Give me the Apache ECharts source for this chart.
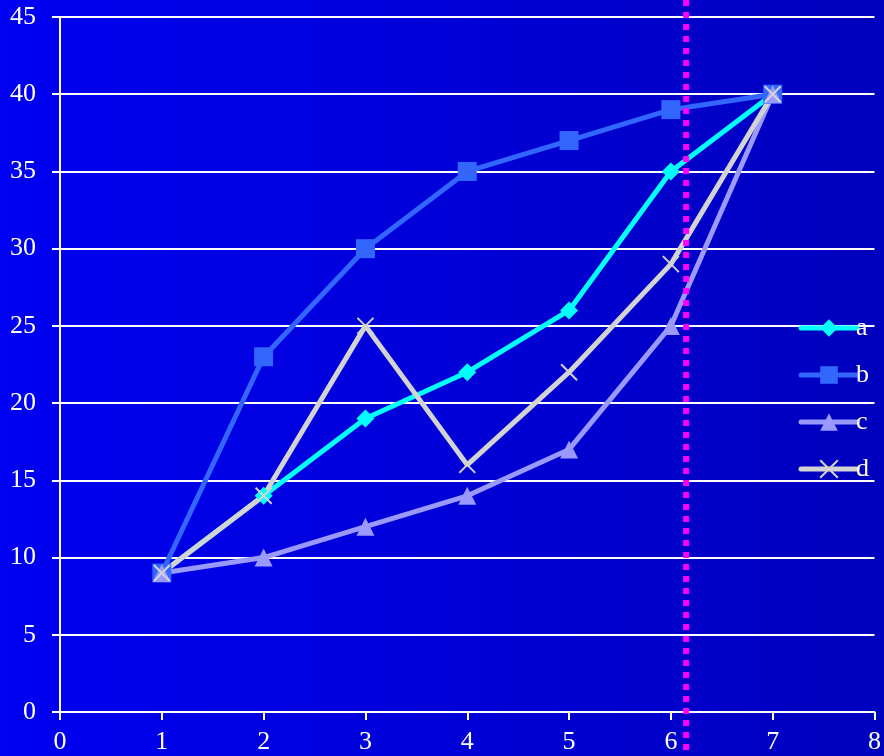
<!DOCTYPE html>
<html>
<head>
<meta charset="utf-8">
<script src="https://cdn.jsdelivr.net/npm/echarts@6/dist/echarts.min.js"></script>
<style>
  html, body { margin: 0; padding: 0; }
  #chart { width: 884px; height: 756px; }
</style>
</head>
<body>
<div id="chart"></div>
<script>
const xs = [1, 2, 3, 4, 5, 6, 7]
const seriesA = [9, 14, 19, 22, 26, 35, 40]
const seriesB = [9, 23, 30, 35, 37, 39, 40]
const seriesC = [9, 10, 12, 14, 17, 25, 40]
const seriesD = [9, 14, 25, 16, 22, 29, 40]
const names = ['a', 'b', 'c', 'd']
const markerX = 6.15

const crossPath = 'path://M0,0L10,10M10,0L0,10'
const fontFamily = '"Liberation Serif", "Times New Roman", serif'

const chart = echarts.init(document.getElementById('chart'))

const mk = (name, vals, color, symbol, size, extra) => ({
  name,
  type: 'line',
  data: xs.map((x, i) => [x, vals[i]]),
  symbol,
  symbolSize: size,
  lineStyle: { color, width: 5, cap: 'round' },
  itemStyle: Object.assign({ color, borderWidth: 0 }, extra || {}),
  emphasis: { disabled: true },
  z: 3
})

chart.setOption({
  animation: false,
  backgroundColor: new echarts.graphic.LinearGradient(0, 0, 1, 0, [
    { offset: 0, color: '#0000F2' },
    { offset: 1, color: '#0000BE' }
  ]),
  grid: { left: 60, right: 8, top: 17, bottom: 44 },
  textStyle: { fontFamily },
  legend: {
    right: 10,
    top: 310,
    orient: 'vertical',
    itemWidth: 56,
    itemHeight: 22,
    itemGap: 21,
    lineStyle: { width: 5, cap: 'round' },
    textStyle: { color: '#fff', fontSize: 26, lineHeight: 24, fontFamily, padding: [0, 0, 0, -6] },
    data: names
  },
  xAxis: {
    type: 'value',
    min: 0, max: 8, interval: 1,
    axisLine: { lineStyle: { color: '#fff', width: 2 } },
    axisTick: { show: true, length: 8, lineStyle: { color: '#fff', width: 2 } },
    axisLabel: { color: '#fff', fontSize: 26, fontFamily, margin: 17 },
    splitLine: { show: false }
  },
  yAxis: {
    type: 'value',
    min: 0, max: 45, interval: 5,
    axisLine: { show: true, lineStyle: { color: '#fff', width: 2 } },
    axisTick: { show: true, length: 8, lineStyle: { color: '#fff', width: 2 } },
    axisLabel: { color: '#fff', fontSize: 26, fontFamily, margin: 24 },
    splitLine: { show: true, lineStyle: { color: '#fff', width: 2 } }
  },
  series: [
    mk('a', seriesA, '#00FFFF', 'diamond', 18),
    mk('b', seriesB, '#3366FF', 'rect', 19),
    mk('c', seriesC, '#9999FF', 'triangle', 18),
    mk('d', seriesD, '#D3D3D3', crossPath, 16, { color: 'none', borderColor: '#D3D3D3', borderWidth: 2 })
  ]
})

const px = chart.convertToPixel({ xAxisIndex: 0 }, markerX)
chart.setOption({
  graphic: [{
    type: 'line',
    z: 100,
    shape: { x1: px, y1: 0, x2: px, y2: 756 },
    style: { stroke: '#FF00FF', lineWidth: 6, lineDash: [6, 6] }
  }]
})
</script>
</body>
</html>
